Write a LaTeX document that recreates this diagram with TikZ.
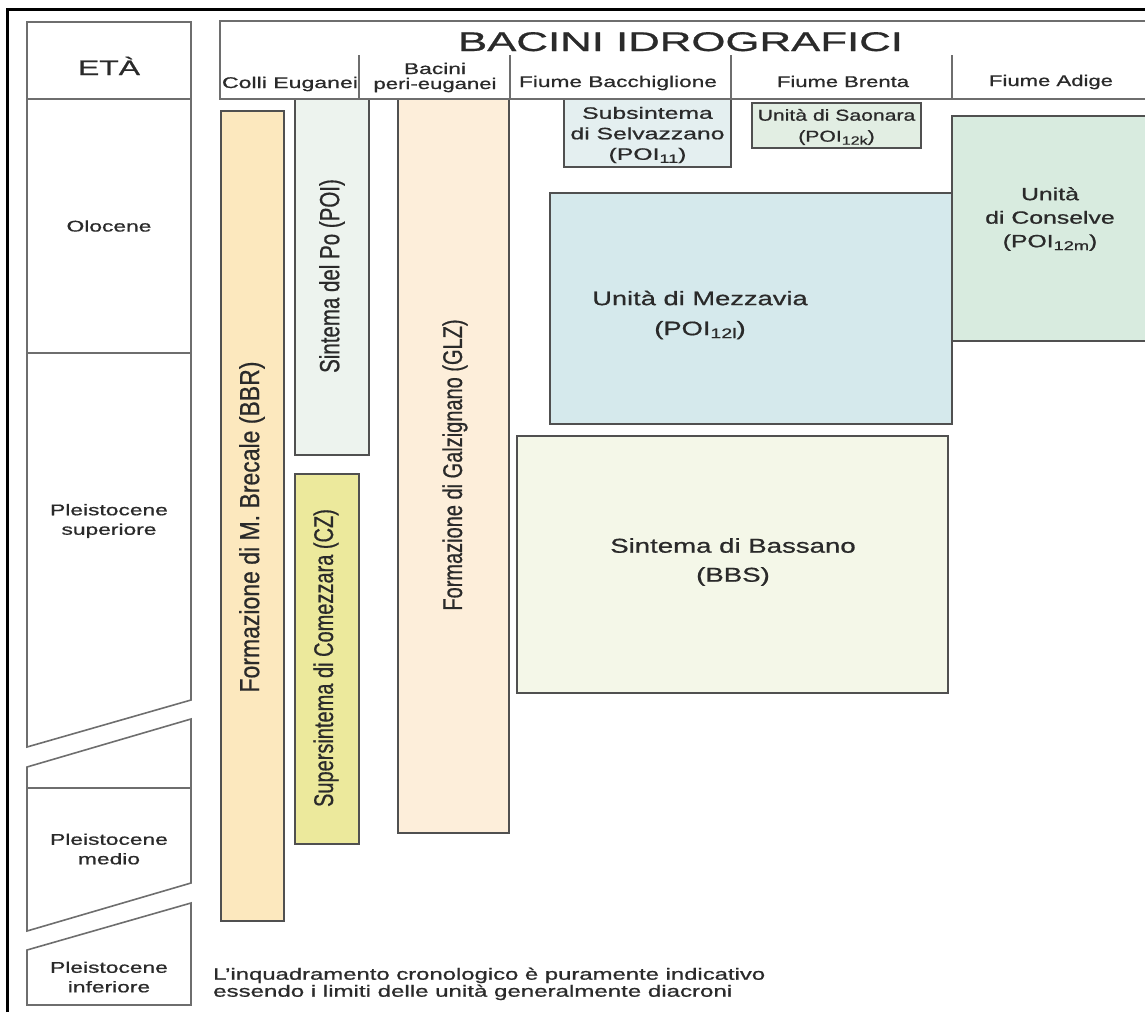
\documentclass[tikz,border=0pt]{standalone}
\usepackage{fontspec}
\setmainfont{Liberation Sans}[FakeBold=0.7]
\usepackage{graphicx}

% fill colours of the stratigraphic units
\definecolor{cBBR}{HTML}{FCE8BE}
\definecolor{cPOI}{HTML}{EDF3EE}
\definecolor{cCZ}{HTML}{ECE99C}
\definecolor{cGLZ}{HTML}{FDEEDA}
\definecolor{cSEL}{HTML}{E4EFF0}
\definecolor{cSAO}{HTML}{E2EEE3}
\definecolor{cMEZ}{HTML}{D5E9EC}
\definecolor{cCON}{HTML}{D8EBDF}
\definecolor{cBBS}{HTML}{F4F7E8}
\definecolor{boxline}{HTML}{505050}
\definecolor{hdrline}{HTML}{6E6E6E}
\definecolor{txt}{HTML}{2A2A2A}

% wide sans lettering
\newcommand\hsx[2]{\scalebox{#1}[1]{#2}}
\newcommand\hs[1]{\scalebox{1.47}[1]{#1}}
\newcommand\hw[2]{\resizebox{#1pt}{\height}{#2}}
\newcommand\vs[2][1.35]{\rotatebox{90}{\scalebox{1}[#1]{#2}}}
\newcommand\setfs[2]{\fontsize{#1pt}{#2pt}\selectfont}
\newcommand\subs[2]{\raisebox{-3pt}{\fontsize{#1pt}{#1pt}\selectfont #2}}

\tikzset{
  unit/.style={draw=boxline, line width=1.8pt},
  agecol/.style={draw=hdrline, line width=1.6pt, line join=miter},
  hdr/.style={draw=hdrline, line width=2.2pt},
  lbl/.style={inner sep=0pt, text=txt, align=center},
}

\begin{document}
\begin{tikzpicture}[x=1pt, y=-1pt]
\useasboundingbox (0,0) rectangle (1145,1012);

% outer frame (top and left)
\draw[line width=3pt] (7,1012) -- (7,9) -- (1145,9);

% ---- age column ----
\draw[agecol] (27,22) rectangle (191,99);
\draw[agecol] (27,99) -- (191,99) -- (191,700) -- (27,747) -- cycle;
\draw[agecol] (27,353) -- (191,353);
\draw[agecol] (27,767) -- (191,719) -- (191,883) -- (27,931) -- cycle;
\draw[agecol] (27,788) -- (191,788);
\draw[agecol] (27,950) -- (191,903) -- (191,1005) -- (27,1005) -- cycle;

\node[lbl, anchor=base, font=\setfs{21}{23}] (eta) at (109,75) {\hw{62}{ETÀ}};
\node[lbl, font=\setfs{15.5}{19.5}] (olo) at (109,226) {\hs{Olocene}};
\node[lbl, font=\setfs{15.5}{19.5}] (psup) at (109,521) {\hs{Pleistocene}\\\hs{superiore}};
\node[lbl, font=\setfs{15.5}{19.5}] (pmed) at (109,849) {\hs{Pleistocene}\\\hs{medio}};
\node[lbl, font=\setfs{15.5}{19.5}] (pinf) at (109,977) {\hs{Pleistocene}\\\hs{inferiore}};

% ---- units ----
\draw[unit, fill=cBBR] (221,111) rectangle (284,921);
\draw[unit, fill=cPOI] (295,99) rectangle (369,455);
\draw[unit, fill=cCZ]  (295,474) rectangle (359,844);
\draw[unit, fill=cGLZ] (398,99) rectangle (509,833);
\draw[unit, fill=cSEL] (564,99) rectangle (731,167);
\draw[unit, fill=cSAO] (752,103) rectangle (921,148);
\draw[unit, fill=cMEZ] (550,193) rectangle (952,424);
\draw[unit, fill=cCON] (952,116) rectangle (1152,341);
\draw[unit, fill=cBBS] (517,436) rectangle (948,693);

\node[lbl, font=\setfs{23}{25}] (bbr) at (252,527) {\vs[1.2]{Formazione di M. Brecale (BBR)}};
\node[lbl, font=\setfs{20.5}{22}] (poi) at (332,276) {\vs{Sintema del Po (POI)}};
\node[lbl, font=\setfs{20}{22}] (cz)  at (326,658) {\vs{Supersintema di Comezzara (CZ)}};
\node[lbl, font=\setfs{20}{22}] (glz) at (455,465) {\vs{Formazione di Galzignano (GLZ)}};

\node[lbl, font=\setfs{16.5}{20.5}] (sel) at (647.5,135)
  {\hsx{1.5}{Subsintema}\\\hsx{1.5}{di Selvazzano}\\\hsx{1.5}{(POI\subs{12}{11})}};
\node[lbl, font=\setfs{15.8}{21}] (sao) at (836.5,127)
  {\hsx{1.34}{Unità di Saonara}\\\hsx{1.34}{(POI\subs{12}{12k})}};
\node[lbl, font=\setfs{17.7}{23.5}] (con) at (1050,219)
  {\hsx{1.4}{Unità}\\\hsx{1.4}{di Conselve}\\\hsx{1.4}{(POI\subs{13}{12m})}};
\node[lbl, font=\setfs{19.5}{30}] (mez) at (700,315)
  {\hsx{1.4}{Unità di Mezzavia}\\\hsx{1.4}{(POI\subs{14}{12l})}};
\node[lbl, font=\setfs{20}{29}] (bbs) at (733,562)
  {\hsx{1.38}{Sintema di Bassano}\\\hsx{1.38}{(BBS)}};

% ---- drainage basins header ----
\draw[hdr] (1152,21) -- (220,21) -- (220,99) -- (1152,99);
\draw[hdr] (359,55) -- (359,99);
\draw[hdr] (510,55) -- (510,99);
\draw[hdr] (731,55) -- (731,99);
\draw[hdr] (952,55) -- (952,99);

\node[lbl, anchor=base, font=\setfs{27}{30}] (bac) at (680.5,51) {\hw{445}{BACINI IDROGRAFICI}};
\node[lbl, anchor=base, font=\setfs{15.5}{18}] (colli) at (290,88) {\hw{136}{Colli Euganei}};
\node[lbl, anchor=base, font=\setfs{15.5}{18}] (peri1) at (435,74) {\hs{Bacini}};
\node[lbl, anchor=base, font=\setfs{15.5}{18}] (peri2) at (435,89) {\hw{123}{peri-euganei}};
\node[lbl, anchor=base, font=\setfs{15.5}{18}] (bacch) at (618,87) {\hw{198}{Fiume Bacchiglione}};
\node[lbl, anchor=base, font=\setfs{15.5}{18}] (brenta) at (843,87) {\hw{132}{Fiume Brenta}};
\node[lbl, anchor=base, font=\setfs{15.5}{18}] (adige) at (1051,86) {\hw{124}{Fiume Adige}};

% ---- note ----
\node[lbl, align=left, anchor=north west, font=\setfs{16.3}{17}] (note) at (213,967.5)
  {\hw{552}{L’inquadramento cronologico è puramente indicativo}\\
   \hw{519}{essendo i limiti delle unità generalmente diacroni}};
\end{tikzpicture}
\end{document}
